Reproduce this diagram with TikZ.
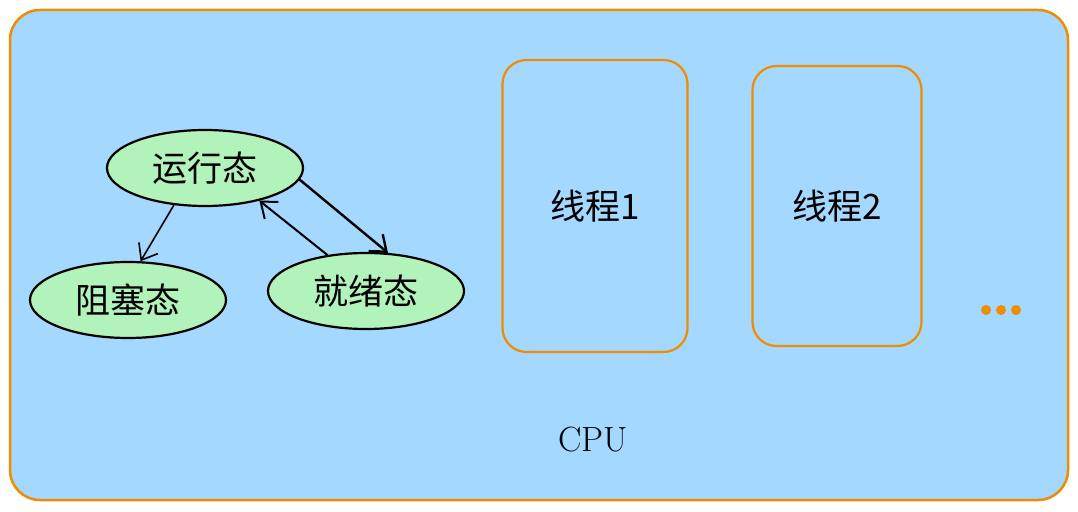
\documentclass[tikz,border=0pt]{standalone}
\usepackage{fontspec}
\newfontfamily\cjk{Noto Sans CJK SC}
\usepackage{tikz}
\usetikzlibrary{shapes.geometric,arrows.meta}

\definecolor{cpublue}{HTML}{A5D8FF}
\definecolor{edgeorange}{HTML}{F08C00}
\definecolor{stategreen}{HTML}{B2F2BB}

\begin{document}
\begin{tikzpicture}[
	x=1pt, y=1pt,
	>={Straight Barb[length=14pt,width=22pt]},
	cpubox/.style={draw=edgeorange, fill=cpublue, line width=2.5pt, rounded corners=30pt},
	threadbox/.style={draw=edgeorange, line width=2.2pt, rounded corners=24pt, font=\cjk\fontsize{35}{40}\selectfont},
	statenode/.style={ellipse, draw=black, fill=stategreen, line width=2.2pt, minimum width=196pt, minimum height=76pt, inner sep=0pt, font=\cjk\fontsize{35}{40}\selectfont},
	dot/.style={circle, fill=edgeorange, inner sep=0pt, minimum size=10pt},
	]
	\useasboundingbox (0,0) rectangle (1078,511);
	%CPU
	\draw[cpubox] (10,11) rectangle (1068,501);
	\node (cpu) at (593,71) {\fontsize{35}{40}\selectfont CPU};
	
	%Threads
	\node[threadbox, minimum width=185pt, minimum height=292pt] (t1) at (595,305) {线程1};
	\node[threadbox, minimum width=169pt, minimum height=280pt] (t2) at (837,305) {线程2};
	\node[dot] (d1) at (986,201) {};
	\node[dot] (d2) at (1001,201) {};
	\node[dot] (d3) at (1016,201) {};
	
	%Nodes
	\node[statenode]      (run)     at (205,343)  {运行态};
	\node[statenode]      (block)   at (128,211)  {阻塞态};
	\node[statenode]      (ready)   at (366,220)  {就绪态};
	
	%Lines
	\draw[->,line width=1.6pt] (run.230) -- (block.72);
	\draw[->,line width=2.4pt] (run.-7) -- (ready.60);
	\draw[->,line width=2pt] (ready.137) -- (run.-31);
\end{tikzpicture}
\end{document}
